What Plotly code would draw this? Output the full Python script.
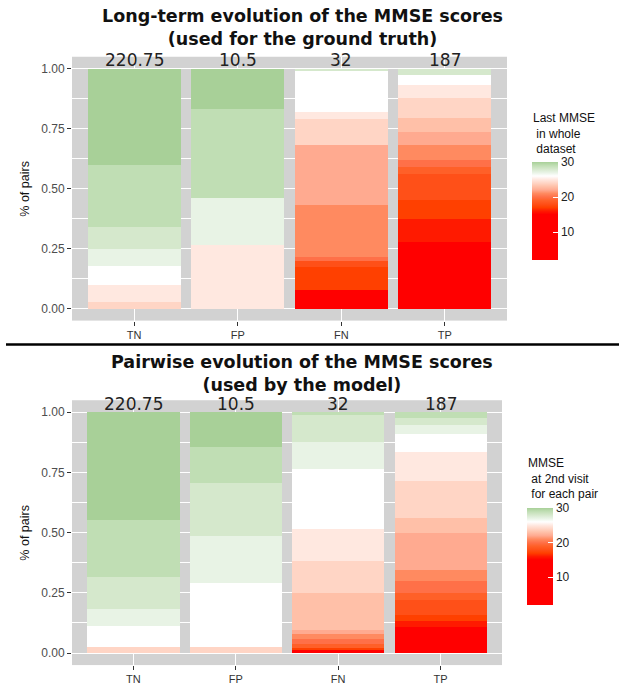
import plotly.graph_objects as go

# ---------------- data ----------------
categories = ["TN", "FP", "FN", "TP"]
counts = ["220.75", "10.5", "32", "187"]

# MMSE level of each stacked segment (12 stands for "15 or lower")
levels = [12, 16, 17, 18, 19, 20, 21, 22, 23, 24, 25, 26, 27, 28, 29, 30]

# long-term evolution (ground truth) – share of pairs per MMSE level
lt_tn = [0, 0, 0, 0, 0, 0, 0, 0, 0, 0.028, 0.069, 0.082, 0.069, 0.094, 0.258, 0.400]
lt_fp = [0, 0, 0, 0, 0, 0, 0, 0, 0, 0, 0.266, 0, 0.196, 0, 0.370, 0.168]
lt_fn = [0.076, 0, 0.099, 0.022, 0, 0.017, 0.220, 0.249, 0, 0.107, 0.031, 0.168, 0, 0.011, 0, 0]
lt_tp = [0.276, 0.096, 0.079, 0.110, 0.028, 0.032, 0.062, 0.052, 0.061, 0.080, 0.058, 0.041, 0, 0.025, 0, 0]

# pairwise evolution (used by the model)
pw_tn = [0, 0, 0, 0, 0, 0, 0, 0, 0, 0.025, 0, 0.087, 0.069, 0.133, 0.238, 0.448]
pw_fp = [0, 0, 0, 0, 0, 0, 0, 0, 0, 0.025, 0, 0.265, 0.196, 0.222, 0.147, 0.145]
pw_fn = [0.011, 0, 0.011, 0, 0.017, 0.020, 0.018, 0.017, 0.154, 0.133, 0.134, 0.248, 0.114, 0.113, 0.010, 0]
pw_tp = [0.108, 0.027, 0.025, 0.061, 0.027, 0.050, 0.047, 0.152, 0.063, 0.154, 0.122, 0.072, 0.038, 0.031, 0.023, 0]

y_ticks = [0, 0.25, 0.5, 0.75, 1.0]
y_ticktext = ["0.00", "0.25", "0.50", "0.75", "1.00"]
cbar_ticks = [10, 20, 30]

# ---------------- colour scale ----------------
cmin, cmax = 2, 30
cs_values = [2, 15, 16, 17, 18, 19, 20, 21, 22, 23, 24, 25, 26, 27, 28, 29, 30]
cs_colors = ["#ff0000", "#ff0000", "#ff1a00", "#ff4000", "#ff5018", "#ff6028", "#ff7048",
             "#ff8a60", "#ffaa90", "#ffc0a8", "#ffd5c5", "#ffe8e0", "#ffffff", "#e8f3e5",
             "#d5e8cc", "#c0deb4", "#a8d098"]
colorscale = [[(v - cmin) / (cmax - cmin), c] for v, c in zip(cs_values, cs_colors)]

W, H = 619, 685
def px(x):
    return x / W
def py(y):
    return 1 - y / H

fig = go.Figure()

panels = [
    (("x", "y", "coloraxis"), [lt_tn, lt_fp, lt_fn, lt_tp]),
    (("x2", "y2", "coloraxis2"), [pw_tn, pw_fp, pw_fn, pw_tp]),
]
for (xa, ya, ca), shares in panels:
    for i, lvl in enumerate(levels):
        fig.add_trace(go.Bar(
            x=categories,
            y=[s[i] for s in shares],
            xaxis=xa, yaxis=ya,
            marker=dict(color=[lvl] * len(categories), coloraxis=ca, line=dict(width=0)),
            showlegend=False,
            hoverinfo="skip",
        ))

axis_font = dict(family="Liberation Sans", size=11, color="#333333")
ytick_font = dict(family="Liberation Sans", size=12, color="#4d4d4d")

def xaxis_cfg(domain, anchor):
    return dict(domain=domain, anchor=anchor, type="category",
                categoryorder="array", categoryarray=categories,
                range=[-0.6, 3.6], ticks="outside", ticklen=4, tickwidth=1,
                tickcolor="#333333", tickfont=axis_font, showgrid=True,
                gridcolor="white", gridwidth=1, zeroline=False, showline=False,
                fixedrange=True)

def yaxis_cfg(domain, anchor):
    return dict(domain=domain, anchor=anchor, range=[-0.05, 1.05],
                tickvals=y_ticks, ticktext=y_ticktext, ticks="outside",
                ticklen=4, tickwidth=1, tickcolor="#333333", tickfont=ytick_font,
                showgrid=True, gridcolor="white", gridwidth=1.1, zeroline=False,
                showline=False,
                minor=dict(tickvals=[0.125, 0.375, 0.625, 0.875], showgrid=True,
                           gridcolor="white", gridwidth=0.5, ticks=""),
                fixedrange=True)

def cbar(x, y, length):
    return dict(x=x, xanchor="left", y=y, yanchor="top", len=length,
                lenmode="pixels", thickness=26, thicknessmode="pixels",
                xpad=0, ypad=0, outlinewidth=0, tickvals=cbar_ticks,
                ticks="inside", ticklen=5, tickcolor="white", tickwidth=1,
                tickfont=dict(family="Liberation Sans", size=12, color="#222222"),
                title=dict(text=""))

fig.update_layout(
    width=W, height=H,
    margin=dict(l=0, r=0, t=0, b=0),
    paper_bgcolor="white",
    plot_bgcolor="#d2d2d2",
    barmode="stack",
    bargap=0.1,
    xaxis=xaxis_cfg([px(72), px(507)], "y"),
    yaxis=yaxis_cfg([py(322), py(57)], "x"),
    xaxis2=xaxis_cfg([px(72), px(502)], "y2"),
    yaxis2=yaxis_cfg([py(668), py(402)], "x2"),
    coloraxis=dict(colorscale=colorscale, cmin=cmin, cmax=cmax,
                   colorbar=cbar(px(532), py(163), 98)),
    coloraxis2=dict(colorscale=colorscale, cmin=cmin, cmax=cmax,
                    colorbar=cbar(px(527), py(510), 97)),
)

ann = []
title_font = dict(family="DejaVu Sans", size=17.5, color="#111111")
for text, y in [("<b>Long-term evolution of the MMSE scores<br>(used for the ground truth)</b>", 28),
                ("<b>Pairwise evolution of the MMSE scores<br>(used by the model)</b>", 375)]:
    ann.append(dict(text=text, x=px(302), y=py(y), xref="paper", yref="paper",
                    xanchor="center", yanchor="middle", align="center",
                    showarrow=False, font=title_font))

count_font = dict(family="DejaVu Sans", size=17, color="#222222")
for xr, yr in [("x", "y"), ("x2", "y2")]:
    for cat, cnt in zip(categories, counts):
        ann.append(dict(text=cnt, x=cat, y=1.036, xref=xr, yref=yr,
                        xanchor="center", yanchor="middle", showarrow=False,
                        font=count_font))
    ann.append(dict(text="% of pairs", x=px(25), y=0.5, xref="paper", yref=yr,
                    textangle=-90, xanchor="center", yanchor="middle",
                    showarrow=False,
                    font=dict(family="Liberation Sans", size=12.5, color="#111111")))

leg_font = dict(family="Liberation Sans", size=12, color="#111111")
for text, x, y in [("Last MMSE<br> in whole<br> dataset", 531, 134),
                   ("MMSE<br> at 2nd visit<br> for each pair", 526, 481)]:
    ann.append(dict(text=text, x=px(x), y=py(y), xref="paper", yref="paper",
                    xanchor="left", yanchor="middle", align="left", showarrow=False,
                    font=leg_font))

fig.update_layout(annotations=ann)

fig.add_shape(type="line", xref="paper", yref="paper", x0=px(6), x1=1,
              y0=py(346), y1=py(346), line=dict(color="black", width=2.5))

fig.write_html("out.html", config={"displayModeBar": False},
               post_script="document.body.style.margin='0px';")
